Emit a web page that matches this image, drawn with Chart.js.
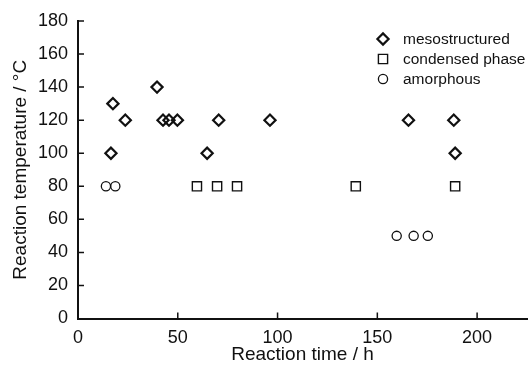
<!DOCTYPE html>
<html>
<head>
<meta charset="utf-8">
<script src="https://cdn.jsdelivr.net/npm/chart.js@4"></script>
<style>
    html, body { margin: 0; padding: 0; background: #fff; }
    #wrap { width: 530px; height: 365px; }
</style>
</head>
<body>
<div id="wrap"><canvas id="phaseChart" width="530" height="365"></canvas></div>
<script>
// values
const mesoTime = [16.5, 17.5, 23.7, 39.6, 42.6, 45.6, 49.8, 64.7, 70.5, 96.2, 165.6, 188.3, 189];
const mesoTemp = [100, 130, 120, 140, 120, 120, 120, 100, 120, 120, 120, 120, 100];
const condTime = [59.6, 69.7, 79.7, 139.2, 189];
const condTemp = [80, 80, 80, 80, 80];
const amorTime = [14, 18.7, 159.7, 168.2, 175.3];
const amorTemp = [80, 80, 50, 50, 50];
const seriesLabels = ["mesostructured", "condensed phase", "amorphous"];
const xTickValues = [0, 50, 100, 150, 200];

const ink = "#111";
const font = "'Liberation Sans', Arial, sans-serif";

function toPoints(xs, ys) {
    return xs.map((x, i) => ({ x: x, y: ys[i] }));
}

const pointStyles = [
    { pointStyle: "rectRot", radius: 5.6, borderWidth: 2.2 },
    { pointStyle: "rect", radius: 6.5, borderWidth: 1.4 },
    { pointStyle: "circle", radius: 4.6, borderWidth: 1.3 },
];

// inward tick marks on both axes
const innerTicks = {
    id: "innerTicks",
    afterDraw(chart) {
        const ctx = chart.ctx;
        const area = chart.chartArea;
        const xs = chart.scales.x;
        const ys = chart.scales.y;
        ctx.save();
        ctx.strokeStyle = ink;
        ctx.lineWidth = 1.5;
        ctx.beginPath();
        xs.ticks.forEach((t) => {
            if (t.value === 0) return;
            const px = xs.getPixelForValue(t.value);
            ctx.moveTo(px, area.bottom);
            ctx.lineTo(px, area.bottom - 6);
        });
        ys.ticks.forEach((t) => {
            if (t.value === 0) return;
            const py = ys.getPixelForValue(t.value);
            ctx.moveTo(area.left, py);
            ctx.lineTo(area.left + 6, py);
        });
        ctx.stroke();
        ctx.restore();
    },
};

// legend stacked in the top right corner
const cornerLegend = {
    id: "cornerLegend",
    afterDraw(chart) {
        const ctx = chart.ctx;
        ctx.save();
        ctx.font = "15.5px " + font;
        ctx.textBaseline = "middle";
        seriesLabels.forEach((label, i) => {
            const y = 39 + i * 20;
            ctx.strokeStyle = ink;
            ctx.fillStyle = "rgba(255,255,255,0)";
            ctx.lineWidth = pointStyles[i].borderWidth;
            Chart.helpers.drawPoint(ctx, {
                pointStyle: pointStyles[i].pointStyle,
                radius: pointStyles[i].radius,
                borderWidth: pointStyles[i].borderWidth,
                rotation: 0,
            }, 383, y);
            ctx.fillStyle = ink;
            ctx.fillText(label, 403, y + 1);
        });
        ctx.restore();
    },
};

const datasets = [
    toPoints(mesoTime, mesoTemp),
    toPoints(condTime, condTemp),
    toPoints(amorTime, amorTemp),
].map((data, i) => ({
    label: seriesLabels[i],
    data: data,
    pointStyle: pointStyles[i].pointStyle,
    pointRadius: pointStyles[i].radius,
    pointBorderWidth: pointStyles[i].borderWidth,
    pointBorderColor: ink,
    pointBackgroundColor: "rgba(255,255,255,0)",
    showLine: false,
}));

const ctx = document.getElementById("phaseChart").getContext("2d");

new Chart(ctx, {
    type: "scatter",
    data: { datasets: datasets },
    plugins: [innerTicks, cornerLegend],
    options: {
        responsive: false,
        animation: false,
        layout: {
            autoPadding: false,
            padding: { top: 21, right: 3, left: 0, bottom: 0 },
        },
        plugins: {
            legend: { display: false },
            tooltip: { enabled: false },
        },
        scales: {
            x: {
                type: "linear",
                min: 0,
                max: 225,
                afterBuildTicks: (scale) => {
                    scale.ticks = xTickValues.map((v) => ({ value: v }));
                },
                afterFit: (scale) => {
                    scale.height = 46.5;
                    scale.paddingLeft = 0;
                    scale.paddingRight = 0;
                },
                grid: { display: false, drawTicks: false },
                border: { display: true, color: ink, width: 2 },
                ticks: {
                    padding: 9,
                    color: ink,
                    font: { family: font, size: 18 },
                },
                title: {
                    display: true,
                    text: "Reaction time / h",
                    color: ink,
                    font: { family: font, size: 19, lineHeight: 1 },
                    padding: { top: 0, bottom: 1 },
                },
            },
            y: {
                min: 0,
                max: 180,
                afterFit: (scale) => {
                    scale.width = 78;
                    scale.paddingTop = 0;
                    scale.paddingBottom = 0;
                },
                grid: { display: false, drawTicks: false },
                border: { display: true, color: ink, width: 2 },
                ticks: {
                    stepSize: 20,
                    padding: 10,
                    color: ink,
                    font: { family: font, size: 18 },
                },
                title: {
                    display: true,
                    text: "Reaction temperature / °C",
                    color: ink,
                    font: { family: font, size: 19, lineHeight: 1 },
                    padding: { top: 11, bottom: 0 },
                },
            },
        },
    },
});
</script>
</body>
</html>
